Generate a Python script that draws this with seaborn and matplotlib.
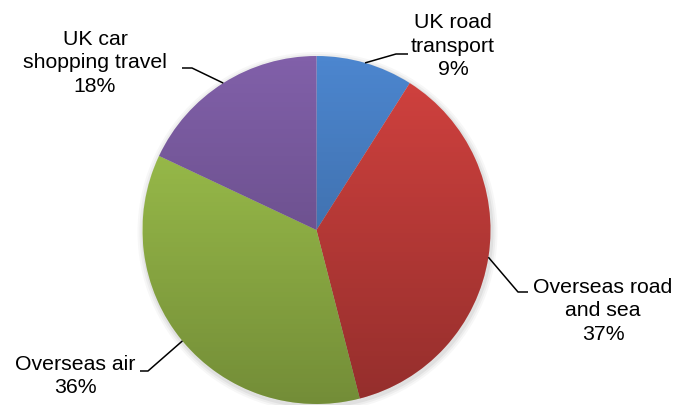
import numpy as np
import matplotlib
matplotlib.use("Agg")
import matplotlib.pyplot as plt
import seaborn as sns
from matplotlib.patches import Circle

categories = ["UK road\ntransport", "Overseas road\nand sea", "Overseas air", "UK car\nshopping travel"]
values = [9, 37, 36, 18]
colors = ["#4c86cf", "#d3423f", "#a4c94f", "#8160a9"]

# label layout (pixel coords of figure, y downward): text center, elbow, line end
label_pos = [(453, 46), (603, 311), (75, 376), (95, 63)]
elbows = [(396, 54), (518, 292), (148, 371), (192, 68)]
ends = [(408, 54), (528, 292), (140, 371), (182, 68)]
line_texts = ["{}\n{}%"] * 4

sns.set_theme(style="white")
plt.rcParams['font.family'] = ['Liberation Sans', 'DejaVu Sans']

W, H = 673, 405
fig = plt.figure(figsize=(W / 100, H / 100), dpi=100)
ax = fig.add_axes([0, 0, 1, 1])
ax.set_xlim(0, W)
ax.set_ylim(0, H)
ax.set_aspect('equal')
ax.axis('off')

cx, cy, R = 316.5, H - 230, 174

# soft shadow
for k, a in [(6, 0.03), (4, 0.04), (2, 0.05)]:
    ax.add_patch(Circle((cx + 1, cy - 2), R + k, color='black', alpha=a, lw=0, zorder=0))

wedges, _ = ax.pie(values, colors=colors, startangle=90, counterclock=False,
                   center=(cx, cy), radius=R, wedgeprops=dict(linewidth=0),
                   frame=True)
ax.set_xlim(0, W)
ax.set_ylim(0, H)
ax.axis('off')

# vertical gradient shading (lighter top, darker bottom)
grad = np.linspace(0, 1, 256).reshape(-1, 1)
img = np.zeros((256, 1, 4))
img[..., 3] = 0.30 * grad[:, 0:1]
im = ax.imshow(img, extent=(cx - R, cx + R, cy - R, cy + R), origin='upper',
               aspect='auto', zorder=3, interpolation='bilinear')
clip = Circle((cx, cy), R, transform=ax.transData)
im.set_clip_path(clip)

for i, w in enumerate(wedges):
    ang = np.deg2rad((w.theta1 + w.theta2) / 2)
    sx, sy = cx + R * np.cos(ang), cy + R * np.sin(ang)
    ex, ey = elbows[i]
    fx, fy = ends[i]
    ax.plot([sx, ex, fx], [sy, H - ey, H - fy], color='black', lw=1.1, zorder=4,
            solid_capstyle='butt')
    tx, ty = label_pos[i]
    ax.text(tx, H - ty, line_texts[i].format(categories[i], values[i]),
            ha='center', va='center', fontsize=15.3, color='black',
            linespacing=1.3, zorder=5)

fig.savefig("out.png", dpi=100)
